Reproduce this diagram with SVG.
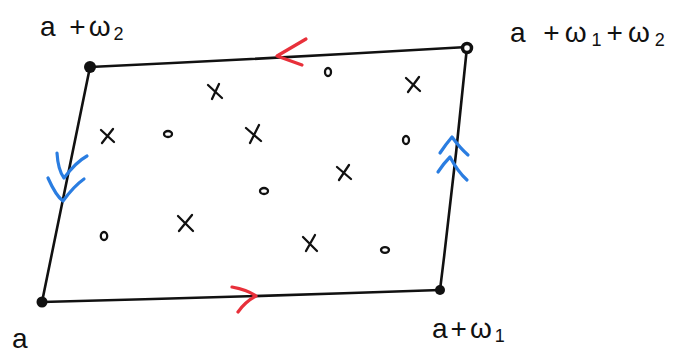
<svg xmlns="http://www.w3.org/2000/svg" width="680" height="356" viewBox="0 0 680 356">
<style>
.edge{fill:none;stroke:#111;stroke-width:2.6;stroke-linecap:round;stroke-linejoin:round}
.red{fill:none;stroke:#e8303a;stroke-width:3.2;stroke-linecap:round;stroke-linejoin:round}
.blue{fill:none;stroke:#2a7de1;stroke-width:3.2;stroke-linecap:round;stroke-linejoin:round}
.mk{fill:none;stroke:#111;stroke-width:2.3;stroke-linecap:round}
.lbl{font-family:"Liberation Sans","DejaVu Sans",sans-serif;font-size:28px;fill:#111;letter-spacing:3px}
.sub{font-size:18px}
</style>
<rect width="680" height="356" fill="#fff"/>
<g id="connectors">
  <path class="edge" d="M90 67 Q280 58 467 47"/>
  <path class="edge" d="M90 67 Q66 185 42 302"/>
  <path class="edge" d="M42 302 Q240 297 440 290"/>
  <path class="edge" d="M467 47 Q455 170 440 290"/>
  <path class="red" d="M306 39 L277 56 L302 65"/>
  <path class="red" d="M232 287 Q248 290 256 296 Q245 302 238 312"/>
  <path class="blue" d="M57 153 Q58 170 64 178 Q76 162 87 156"/>
  <path class="blue" d="M48 178 Q56 196 63 201 Q74 186 84 179"/>
  <path class="blue" d="M440 153 Q446 144 452 137 Q460 148 468 155"/>
  <path class="blue" d="M438 172 Q444 163 450 157 Q458 172 467 180"/>
</g>
<g id="corner-a"><circle cx="42" cy="302" r="5.5" fill="#111"/><text class="lbl" x="12" y="348">a</text></g>
<g id="corner-a-w1"><circle cx="440" cy="290" r="5" fill="#111"/><text class="lbl" x="432" y="338">a+ω<tspan class="sub" dy="4">1</tspan></text></g>
<g id="corner-a-w2"><circle cx="90" cy="67" r="6" fill="#111"/><text class="lbl" x="40" y="36">a +ω<tspan class="sub" dy="4">2</tspan></text></g>
<g id="corner-a-w1-w2"><circle cx="467" cy="48" r="4.5" fill="#fff" stroke="#111" stroke-width="3.5"/><text class="lbl" x="510" y="42" style="letter-spacing:5px">a +ω<tspan class="sub" dy="4">1</tspan><tspan dy="-4">+ω</tspan><tspan class="sub" dy="4">2</tspan></text></g>
<g id="points">
  <path class="mk" d="M208 85 L222 98 M219 84 L212 99"/>
  <path class="mk" d="M101 130 L114 142 M113 129 L102 143"/>
  <path class="mk" d="M246 128 L261 141 M259 125 L250 143"/>
  <path class="mk" d="M337 167 L351 179 M349 165 L339 180"/>
  <path class="mk" d="M178 216 L193 231 M192 215 L179 231"/>
  <path class="mk" d="M303 237 L317 251 M315 235 L306 251"/>
  <path class="mk" d="M406 78 L420 91 M419 77 L408 92"/>
  <ellipse class="mk" cx="328" cy="72" rx="3" ry="4"/>
  <ellipse class="mk" cx="168" cy="134" rx="4" ry="3"/>
  <ellipse class="mk" cx="406" cy="140" rx="3" ry="4"/>
  <ellipse class="mk" cx="264" cy="191" rx="4" ry="3"/>
  <ellipse class="mk" cx="104" cy="236" rx="3.2" ry="4"/>
  <ellipse class="mk" cx="385" cy="250" rx="4" ry="2.8"/>
</g>
</svg>
